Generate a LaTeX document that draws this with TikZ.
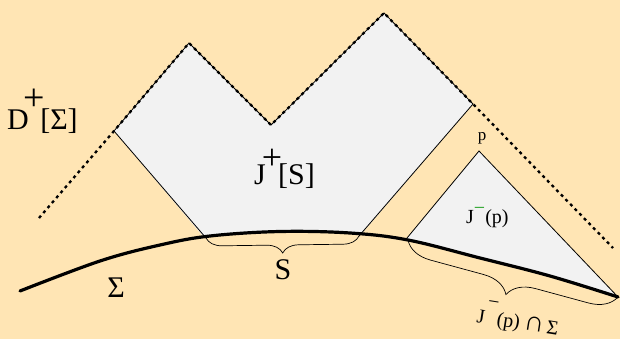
\documentclass[tikz,border=0pt]{standalone}
\usepackage{fontspec}
\setmainfont{Liberation Serif}
\usetikzlibrary{decorations.pathreplacing}
\definecolor{bgcol}{HTML}{FFE5B4}
\definecolor{regiongray}{HTML}{F2F2F2}
\definecolor{bargreen}{HTML}{1FA01F}
\begin{document}
\begin{tikzpicture}[x=1pt,y=-1pt,
  edge/.style={line width=0.8pt, line join=miter},
  nullcone/.style={dash pattern=on 3pt off 3.6pt, line width=2.3pt},
  surface/.style={line width=3.2pt, line cap=round},
  bracestyle/.style={decorate, decoration={brace,mirror,amplitude=#1}, line width=0.7pt},
  biglbl/.style={inner sep=0pt, font=\fontsize{30}{30}\selectfont},
  smalllbl/.style={inner sep=0pt, font=\fontsize{20}{20}\selectfont}]
\useasboundingbox[fill=bgcol] (0,0) rectangle (620,339);
% key points
\coordinate (L) at (114,131);
\coordinate (P1) at (189,43);
\coordinate (V) at (271,125);
\coordinate (P2) at (384,13);
\coordinate (R) at (473,104);
\coordinate (SA) at (206,238);
\coordinate (SB) at (359,236);
\coordinate (DL) at (39,218);
\coordinate (DR) at (613,248);
\coordinate (p) at (479,151);
\coordinate (TA) at (407,238);
\coordinate (TB) at (618,297);
\def\sigmapts{(20,291) (100,261) (160,245) (210,236) (280,231.5) (350,233) (408,240) (480,258) (550,276) (618,297)}
% filled regions, clipped above Sigma
\begin{scope}
  \clip (0,0) -- (0,291) -- plot[smooth,tension=0.6] coordinates {\sigmapts} -- (620,297) -- (620,0) -- cycle;
  \fill[regiongray] (L) -- (P1) -- (V) -- (P2) -- (R) -- (352,245) -- (213,248) -- cycle;
  \fill[regiongray] (p) -- (397,250) -- (630,310) -- cycle;
\end{scope}
% region edges
\draw[edge] (SA) -- (L) -- (P1) -- (V) -- (P2) -- (R) -- (SB);
\draw[edge] (TA) -- (p) -- (TB);
% D^+ boundary (dotted)
\draw[nullcone] (DL) -- (L) -- (P1) -- (V) -- (P2) -- (R) -- (DR);
% Sigma
\draw[surface] plot[smooth,tension=0.6] coordinates {\sigmapts};
% braces
\draw[bracestyle=16] (SA) -- (SB);
\draw[bracestyle=27] (408,240) -- (TB);
% labels
\node[biglbl, anchor=base west] (dlabel) at (7,130) {D\hspace{-5pt}\raisebox{19pt}{\fontsize{38}{38}\selectfont +}\hspace{-5pt}[Σ]};
\node[biglbl, anchor=base west] (jplus) at (254,184) {J\hspace{-4pt}\raisebox{15pt}{\fontsize{36}{36}\selectfont +}\hspace{-4pt}[S]};
\node[biglbl] (sigmalbl) at (116,288) {Σ};
\node[biglbl, anchor=base] (slbl) at (283,279) {S};
\node[inner sep=0pt, font=\fontsize{17}{17}\selectfont, anchor=base] (plbl) at (482,141) {p};
\node[smalllbl, anchor=base west] (jminus) at (466,223) {J\raisebox{9pt}{\color{bargreen}−}(p)};
\node[inner sep=0pt, font=\fontsize{20}{20}\selectfont, anchor=base west, rotate=-9] (jcap) at (476,322) {J\hspace{1pt}\raisebox{16pt}{−}(p)\hspace{4pt}{\fontsize{28}{28}\selectfont ∩}\hspace{3pt}Σ};
\end{tikzpicture}
\end{document}
